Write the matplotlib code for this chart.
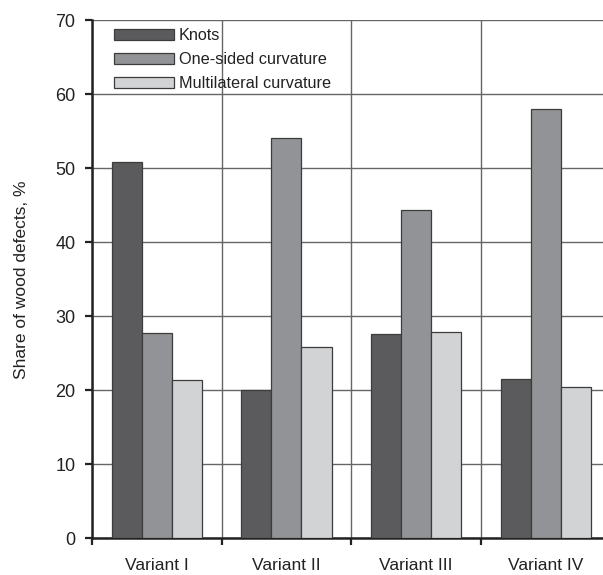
import matplotlib
matplotlib.use("Agg")
import matplotlib.pyplot as plt
import numpy as np

# Data
variants = ["Variant I", "Variant II", "Variant III", "Variant IV"]
series_names = ["Knots", "One-sided curvature", "Multilateral curvature"]
knots = [50.8, 20.0, 27.6, 21.5]
one_sided = [27.7, 54.1, 44.4, 58.0]
multilateral = [21.4, 25.8, 27.9, 20.5]
y_ticks = [0, 10, 20, 30, 40, 50, 60, 70]

colors = ["#5b5b5d", "#929396", "#d2d3d5"]
edge = "#3c3c3c"
ink = "#222222"

plt.rcParams["font.family"] = ["Liberation Sans", "DejaVu Sans"]

fig = plt.figure(figsize=(6.03, 5.75), dpi=100)
ax = fig.add_axes([92 / 603, (575 - 538.3) / 575, (610.5 - 92) / 603, (538.3 - 20.3) / 575])

x = np.arange(len(variants))
w = 0.232
for i, (vals, name) in enumerate(zip([knots, one_sided, multilateral], series_names)):
    ax.bar(x + (i - 1) * w, vals, width=w, color=colors[i], edgecolor=edge,
           linewidth=0.9, label=name, zorder=3)

ax.set_xlim(-0.5, len(variants) - 0.5)
ax.set_ylim(0, 70)
ax.set_yticks(y_ticks)
ax.set_xticks(x)
ax.set_xticklabels(variants)
ax.set_xticks(np.arange(-0.5, len(variants) + 0.5, 1.0), minor=True)

ax.tick_params(axis="x", which="major", length=0, pad=14, labelsize=12.5, labelcolor=ink)
ax.tick_params(axis="x", which="minor", length=5, width=1.6, direction="out", color=ink)
ax.tick_params(axis="y", which="major", length=5, width=1.6, direction="out",
               labelsize=13, pad=7, color=ink, labelcolor=ink)

ax.grid(axis="y", which="major", color="#666666", linewidth=1.0, zorder=0)
ax.grid(axis="x", which="minor", color="#666666", linewidth=1.0, zorder=0)
ax.grid(axis="x", which="major", visible=False)

for s in ["top", "right"]:
    ax.spines[s].set_visible(False)
for s in ["left", "bottom"]:
    ax.spines[s].set_linewidth(1.8)
    ax.spines[s].set_color(ink)
ax.set_axisbelow(True)

ax.set_ylabel("Share of wood defects, %", fontsize=12.5, labelpad=19, color=ink)

leg = ax.legend(loc="upper left", bbox_to_anchor=(0.0425, 0.985), frameon=False,
                handlelength=3.7, handleheight=0.7, handletextpad=0.3,
                labelspacing=0.55, borderpad=0, borderaxespad=0, fontsize=11.7)
for t in leg.get_texts():
    t.set_color(ink)

fig.savefig("out.png", dpi=100, facecolor="white")
